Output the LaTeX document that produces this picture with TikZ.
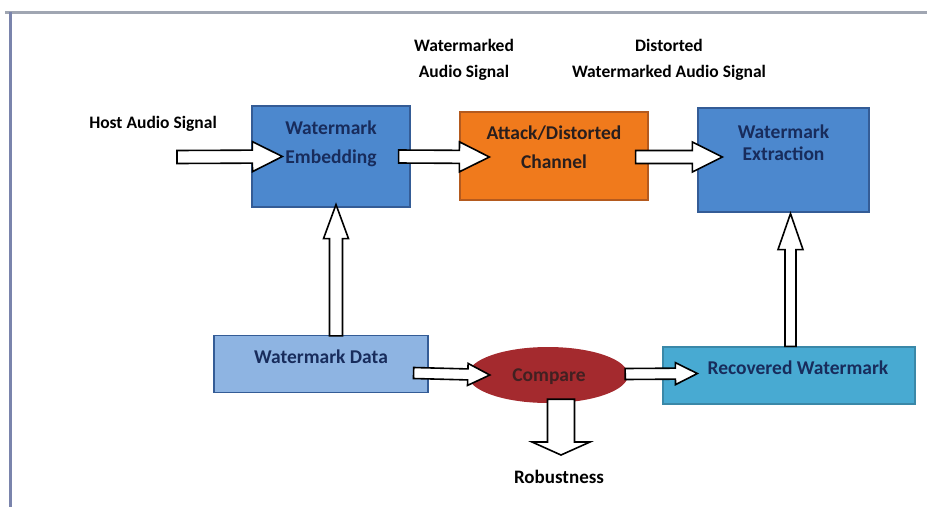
\documentclass[tikz,border=0pt]{standalone}
\usepackage{fontspec}
\setmainfont{Carlito}
\usetikzlibrary{shapes.geometric,calc}

\definecolor{embblue}{RGB}{76,136,206}
\definecolor{embline}{RGB}{52,92,150}
\definecolor{attorange}{RGB}{240,122,28}
\definecolor{attline}{RGB}{180,90,30}
\definecolor{datablue}{RGB}{142,180,226}
\definecolor{cmpred}{RGB}{164,42,46}
\definecolor{recteal}{RGB}{72,170,210}
\definecolor{navytext}{RGB}{24,44,92}
\definecolor{darktext}{RGB}{40,30,30}
\definecolor{framegray}{RGB}{160,166,178}
\definecolor{frameblue}{RGB}{122,132,172}

%% 太い白抜き矢印: 始点, 終点, 軸の半幅, 頭の半幅, 頭の長さ
\newcommand{\fatarrow}[5]{%
  \draw[fatline] let \p1=(#1), \p2=(#2),
    \n1={atan2(\y2-\y1,\x2-\x1)}, \n2={veclen(\x2-\x1,\y2-\y1)} in
    [shift={(\p1)}, rotate=\n1]
    (0,#3) -- ({\n2-#5},#3) -- ({\n2-#5},#4) -- ({\n2},0)
    -- ({\n2-#5},-#4) -- ({\n2-#5},-#3) -- (0,-#3) -- cycle;
}

\tikzset{
  box/.style={draw, line width=1.2pt, inner sep=0pt},
  boxtext/.style={align=center, font=\bfseries\fontsize{19.5}{29}\selectfont},
  lbl/.style={align=center, font=\bfseries\fontsize{17.5}{26}\selectfont},
  fatline/.style={draw=black, fill=white, line width=1.6pt, line join=miter},
}

\begin{document}
\begin{tikzpicture}[x=1pt, y=-1pt]
  \useasboundingbox (0,0) rectangle (927,507);

  %% 枠
  \draw[framegray, line width=3pt] (5,12) -- (927,12);
  \draw[frameblue, line width=3pt] (10,12) -- (10,507);

  %% 上段のブロック
  \node[box, fill=embblue, draw=embline, minimum width=158pt, minimum height=101pt] (emb) at (331,156.5) {};
  \node[boxtext, text=navytext] (embtxt) at ($(emb.center)+(0,-13)$) {Watermark\\Embedding};

  \node[box, fill=attorange, draw=attline, minimum width=188pt, minimum height=88pt] (att) at (554,156) {};
  \node[boxtext, text=darktext] (atttxt) at ($(att.center)+(0,-8.5)$) {Attack/Distorted\\Channel};

  \node[box, fill=embblue, draw=embline, minimum width=171pt, minimum height=104pt] (ext) at (783.5,160) {};
  \node[boxtext, text=navytext, font=\bfseries\fontsize{19.5}{22}\selectfont] (exttxt)
    at ($(ext.center)+(0,-17.5)$) {Watermark\\Extraction};

  %% 下段のブロック
  \node[box, fill=datablue, draw=embline, minimum width=214pt, minimum height=57pt] (data) at (321,364) {};
  \node[boxtext, text=navytext] (datatxt) at ($(data.center)+(0,-7)$) {Watermark Data};

  \node[ellipse, fill=cmpred, minimum width=160pt, minimum height=56pt, inner sep=0pt] (cmp) at (548,375) {};
  \node[boxtext, text=darktext!80!cmpred] (cmptxt) at ($(cmp.center)+(1,2)$) {Compare};

  \node[box, fill=recteal, draw=recteal!80!black, minimum width=252pt, minimum height=57pt] (rec) at (789,375.5) {};
  \node[boxtext, text=navytext] (rectxt) at ($(rec.center)+(9,-7.5)$) {Recovered Watermark};

  %% ラベル
  \node[lbl] (hostlbl) at (153,124) {Host Audio Signal};
  \node[lbl] (wmlbl) at (464,60) {Watermarked\\Audio Signal};
  \node[lbl] (dstlbl) at (669,60) {Distorted\\Watermarked Audio Signal};
  \node[lbl, font=\bfseries\fontsize{19}{24}\selectfont] (roblbl) at (559,477) {Robustness};

  %% 矢印の端点
  \coordinate (host) at (177,157);
  \coordinate (embin) at ($(emb.west)+(31,0)$);
  \coordinate (embout) at ($(emb.east)+(-12,0)$);
  \coordinate (attin) at ($(att.west)+(30,1)$);
  \coordinate (attout) at ($(att.east)+(-13,1)$);
  \coordinate (extin) at ($(ext.west)+(25,-3)$);
  \coordinate (dataup) at ($(data.north)+(15,1)$);
  \coordinate (embbot) at ($(emb.south)+(5,-3)$);
  \coordinate (dataout) at ($(data.east)+(-15,9)$);
  \coordinate (cmpin) at ($(cmp.west)+(22,0)$);
  \coordinate (cmpout) at ($(cmp.east)+(-3,-1)$);
  \coordinate (recin) at ($(rec.west)+(35,-2)$);
  \coordinate (recup) at ($(rec.north)+(1.5,0)$);
  \coordinate (extbot) at ($(ext.south)+(7,1)$);
  \coordinate (cmpdown) at ($(cmp.south)+(13,-4)$);
  \coordinate (robtip) at (561,455);

  %% 白抜き矢印
  \fatarrow{host}{embin}{6.5}{15}{30}
  \fatarrow{embout}{attin}{6.5}{15}{30}
  \fatarrow{attout}{extin}{6.5}{15}{30}
  \fatarrow{dataup}{embbot}{6.5}{12.5}{34}
  \fatarrow{dataout}{cmpin}{5.5}{11}{22}
  \fatarrow{cmpout}{recin}{5.5}{11}{22}
  \fatarrow{recup}{extbot}{5.5}{12.5}{36}
  \fatarrow{cmpdown}{robtip}{13.5}{29}{13}
\end{tikzpicture}
\end{document}
